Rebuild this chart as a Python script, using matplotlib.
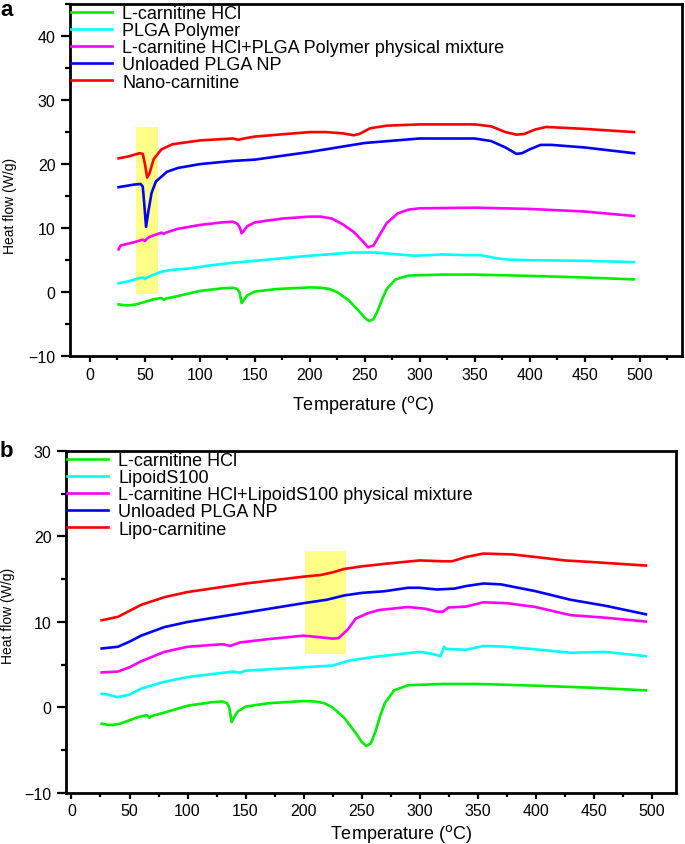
import numpy as np
import matplotlib
matplotlib.use('Agg')
import matplotlib.pyplot as plt
from matplotlib.patches import Rectangle
from matplotlib.ticker import MultipleLocator

plt.rcParams['font.family'] = ['Liberation Sans', 'DejaVu Sans']

# L-carnitine HCl (same trace in both panels)
t_lc = [26, 30, 35, 42, 50, 58, 65, 67, 69, 80, 100, 120, 130, 134, 136, 138, 140, 143, 150, 170, 200,
        210, 218, 225, 235, 245, 250, 254, 258, 262, 266, 270, 278, 290, 320, 350, 400, 450, 495]
h_lc = [-1.9, -2.0, -2.05, -1.9, -1.5, -1.1, -0.9, -1.2, -1.0, -0.6, 0.2, 0.6, 0.7, 0.5, 0.0, -1.7, -1.2, -0.5, 0.1, 0.5, 0.75,
        0.7, 0.5, 0.0, -1.2, -3.0, -4.0, -4.5, -4.2, -2.8, -1.0, 0.5, 2.0, 2.6, 2.75, 2.75, 2.55, 2.3, 2.0]

# panel a
t_plga = [26, 35, 45, 48, 50, 52, 56, 65, 75, 90, 110, 130, 150, 200, 240, 260, 280, 295, 310, 320, 340, 355,
          370, 380, 400, 450, 495]
h_plga = [1.4, 1.7, 2.2, 2.3, 2.05, 2.3, 2.6, 3.2, 3.5, 3.7, 4.2, 4.6, 4.9, 5.7, 6.2, 6.2, 5.9, 5.7, 5.8, 5.9, 5.8, 5.8,
          5.3, 5.1, 5.0, 4.9, 4.7]

t_mixa = [26, 28, 40, 48, 50, 52, 55, 65, 67, 69, 80, 100, 120, 130, 134, 136, 138, 140, 143, 150, 175, 200,
          210, 220, 230, 240, 248, 253, 258, 263, 270, 280, 290, 300, 350, 400, 450, 495]
h_mixa = [6.7, 7.3, 7.8, 8.2, 8.0, 8.4, 8.7, 9.3, 9.1, 9.3, 9.9, 10.5, 10.9, 11.0, 10.7, 10.2, 9.2, 9.6, 10.3, 10.9, 11.5, 11.8,
          11.8, 11.5, 10.6, 9.4, 8.0, 7.0, 7.3, 8.8, 10.8, 12.3, 12.9, 13.1, 13.2, 13.0, 12.6, 11.9]

t_npa = [26, 40, 46, 48, 49.5, 51, 53, 56, 60, 70, 80, 100, 130, 150, 200, 250, 300, 350, 365, 378, 388, 393,
         400, 410, 420, 450, 495]
h_npa = [16.4, 16.8, 16.9, 16.5, 13.5, 10.2, 12.5, 15.5, 17.3, 18.8, 19.4, 20.0, 20.5, 20.7, 21.9, 23.3, 24.0, 24.0, 23.6, 22.6, 21.6, 21.7,
         22.3, 23.0, 23.0, 22.6, 21.7]

t_nano = [26, 35, 45, 48, 50, 52, 54, 58, 65, 75, 100, 130, 135, 140, 150, 200, 215, 230, 240, 245, 255, 270,
          300, 350, 365, 378, 388, 395, 405, 415, 450, 495]
h_nano = [20.9, 21.2, 21.7, 21.6, 20.0, 17.9, 18.5, 20.8, 22.3, 23.1, 23.7, 24.0, 23.8, 24.0, 24.3, 25.0, 25.0, 24.8, 24.5, 24.7, 25.6, 26.0,
          26.2, 26.2, 25.9, 25.0, 24.6, 24.7, 25.4, 25.8, 25.5, 25.0]

# panel b
t_lip = [26, 30, 40, 50, 60, 80, 100, 130, 140, 145, 150, 200, 225, 230, 240, 260, 280, 300, 310, 318, 321,
         323, 340, 355, 375, 400, 430, 460, 495]
h_lip = [1.6, 1.55, 1.2, 1.5, 2.2, 3.0, 3.55, 4.05, 4.2, 4.05, 4.3, 4.7, 4.9, 5.1, 5.5, 5.9, 6.2, 6.5, 6.3, 6.0, 7.1,
         6.85, 6.75, 7.2, 7.1, 6.8, 6.4, 6.5, 6.0]

t_mixb = [26, 40, 50, 60, 80, 100, 130, 137, 145, 170, 200, 215, 225, 230, 238, 245, 255, 265, 290, 305, 315,
          320, 325, 340, 355, 375, 400, 430, 460, 495]
h_mixb = [4.1, 4.2, 4.7, 5.4, 6.5, 7.1, 7.4, 7.2, 7.6, 8.0, 8.4, 8.2, 8.05, 8.1, 9.1, 10.4, 11.0, 11.4, 11.75, 11.55, 11.2,
          11.2, 11.7, 11.8, 12.3, 12.2, 11.75, 10.8, 10.5, 10.05]

t_npb = [26, 40, 50, 60, 80, 100, 150, 200, 220, 235, 250, 270, 290, 300, 315, 330, 340, 355, 370, 400, 430, 460, 495]
h_npb = [6.9, 7.1, 7.7, 8.4, 9.4, 10.0, 11.1, 12.2, 12.6, 13.1, 13.4, 13.6, 14.0, 14.0, 13.8, 13.9, 14.2, 14.5, 14.4, 13.6, 12.6, 11.9, 10.9]

t_lipo = [26, 40, 50, 60, 80, 100, 150, 200, 215, 225, 235, 250, 270, 300, 320, 328, 340, 355, 380, 400, 425, 450, 495]
h_lipo = [10.2, 10.6, 11.3, 12.0, 12.9, 13.5, 14.5, 15.3, 15.5, 15.8, 16.2, 16.5, 16.8, 17.2, 17.1, 17.1, 17.6, 18.0, 17.9, 17.6, 17.2, 17.0, 16.6]

labels_a = ['L-carnitine HCl', 'PLGA Polymer', 'L-carnitine HCl+PLGA Polymer physical mixture',
            'Unloaded PLGA NP', 'Nano-carnitine']
labels_b = ['L-carnitine HCl', 'LipoidS100', 'L-carnitine HCl+LipoidS100 physical mixture',
            'Unloaded PLGA NP', 'Lipo-carnitine']
colors = ['#00ee00', '#00ffff', '#ff00ff', '#0000ff', '#ff0000']

# highlighted regions (x0, x1, y0, y1)
hl_a = (42.3, 61.9, -0.3, 25.8)
hl_b = (201, 236.6, 6.3, 18.3)


def style(ax, xlim, ylim):
    ax.set_xlim(*xlim)
    ax.set_ylim(*ylim)
    ax.xaxis.set_major_locator(MultipleLocator(50))
    ax.xaxis.set_minor_locator(MultipleLocator(25))
    ax.yaxis.set_major_locator(MultipleLocator(10))
    ax.yaxis.set_minor_locator(MultipleLocator(5))
    for s in ax.spines.values():
        s.set_linewidth(2)
    ax.tick_params(which='both', direction='out', width=1.6, labelsize=11.5, top=False, right=False)
    ax.tick_params(axis='y', which='major', length=6.5, pad=4)
    ax.tick_params(axis='y', which='minor', length=3.5)
    ax.tick_params(axis='x', which='major', length=4.5, pad=3)
    ax.tick_params(axis='x', which='minor', length=3)


fig = plt.figure(figsize=(6.85, 8.45), dpi=100)

ax1 = fig.add_axes([0.1022, 0.5772, 0.893, 0.4169])
x0, x1, y0, y1 = hl_a
ax1.add_patch(Rectangle((x0, y0), x1 - x0, y1 - y0, color='#ffff88', lw=0, zorder=1))
series_a = [(t_lc, h_lc), (t_plga, h_plga), (t_mixa, h_mixa), (t_npa, h_npa), (t_nano, h_nano)]
for (t, h), c, lab in zip(series_a, colors, labels_a):
    ax1.plot(t, h, color=c, lw=1.9, label=lab, zorder=2)
style(ax1, (-18.2, 538.4), (-10, 45))
ax1.set_xlabel('Temperature ($^{\\mathrm{o}}$C)', fontsize=13)
ax1.set_ylabel('Heat flow (W/g)', fontsize=10)
ax1.xaxis.set_label_coords(0.48, -0.105)
ax1.yaxis.set_label_coords(-0.086, 0.43)
ax1.legend(loc='upper left', bbox_to_anchor=(0.0, 1.0), frameon=False, fontsize=13,
           handlelength=2.3, handletextpad=0.55, labelspacing=0.01, borderaxespad=0.05, borderpad=0)
fig.text(0.0, 0.981, 'a', fontsize=16, fontweight='bold', va='baseline')

ax2 = fig.add_axes([0.0964, 0.0604, 0.8905, 0.4047])
x0, x1, y0, y1 = hl_b
ax2.add_patch(Rectangle((x0, y0), x1 - x0, y1 - y0, color='#ffff88', lw=0, zorder=1))
series_b = [(t_lc, h_lc), (t_lip, h_lip), (t_mixb, h_mixb), (t_npb, h_npb), (t_lipo, h_lipo)]
for (t, h), c, lab in zip(series_b, colors, labels_b):
    ax2.plot(t, h, color=c, lw=1.9, label=lab, zorder=2)
style(ax2, (-4.7, 521), (-10, 30))
ax2.set_xlabel('Temperature ($^{\\mathrm{o}}$C)', fontsize=13)
ax2.set_ylabel('Heat flow (W/g)', fontsize=10)
ax2.xaxis.set_label_coords(0.55, -0.085)
ax2.yaxis.set_label_coords(-0.084, 0.52)
ax2.legend(loc='upper left', bbox_to_anchor=(0.0, 1.0), frameon=False, fontsize=13,
           handlelength=2.3, handletextpad=0.55, labelspacing=0.01, borderaxespad=0.05, borderpad=0)
fig.text(0.0, 0.459, 'b', fontsize=16, fontweight='bold', va='baseline')

fig.savefig('out.png', dpi=100)
